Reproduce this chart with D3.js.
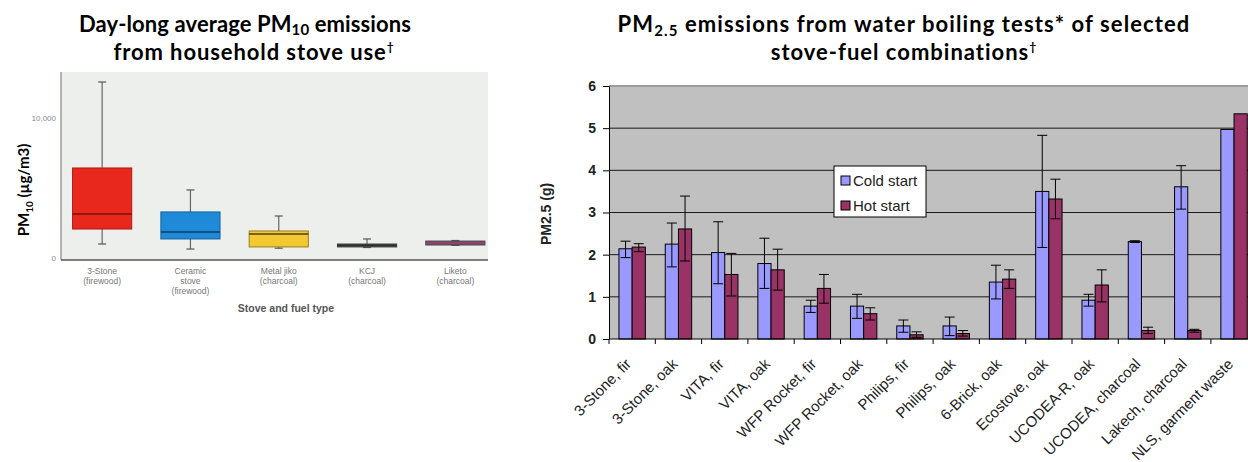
<!DOCTYPE html>
<html>
<head>
<meta charset="utf-8">
<script src="https://cdn.jsdelivr.net/npm/d3@7"></script>
<style>
  html, body { margin: 0; padding: 0; background: #ffffff; }
  svg { display: block; }
</style>
</head>
<body>
<svg id="chart" width="1248" height="462"></svg>
<script>
// ---------------- Data: left panel (box plot, PM10 µg/m3) ----------------
const stoveCategories = ["3-Stone (firewood)", "Ceramic stove (firewood)", "Metal jiko (charcoal)", "KCJ (charcoal)", "Liketo (charcoal)"];
const stoveLabelLines = [["3-Stone", "(firewood)"], ["Ceramic", "stove", "(firewood)"], ["Metal jiko", "(charcoal)"], ["KCJ", "(charcoal)"], ["Liketo", "(charcoal)"]];
const whiskerLow  = [1000, 640, 700, 750, 900];
const quartile1   = [2070, 1360, 790, 790, 930];
const medianVal   = [3140, 1860, 1710, 900, 1070];
const quartile3   = [6430, 3290, 1930, 1000, 1210];
const whiskerHigh = [12570, 4860, 3000, 1360, 1250];
const leftTicks = [0, 10000];

// ---------------- Data: right panel (grouped bars, PM2.5 g) ----------------
const tests = ["3-Stone, fir", "3-Stone, oak", "VITA, fir", "VITA, oak", "WFP Rocket, fir", "WFP Rocket, oak", "Philips, fir", "Philips, oak", "6-Brick, oak", "Ecostove, oak", "UCODEA-R, oak", "UCODEA, charcoal", "Lakech, charcoal", "NLS, garment waste"];
const seriesNames = ["Cold start", "Hot start"];
const coldStart   = [2.14, 2.25, 2.05, 1.79, 0.78, 0.78, 0.31, 0.31, 1.35, 3.50, 0.92, 2.31, 3.61, 4.97];
const coldLow     = [1.93, 1.71, 1.31, 1.20, 0.63, 0.49, 0.16, 0.08, 0.95, 2.17, 0.78, 2.29, 3.08, null];
const coldHigh    = [2.32, 2.75, 2.78, 2.39, 0.92, 1.06, 0.45, 0.52, 1.75, 4.83, 1.06, 2.33, 4.11, null];
const hotStart    = [2.18, 2.61, 1.53, 1.64, 1.20, 0.60, 0.10, 0.13, 1.42, 3.32, 1.28, 0.20, 0.20, 5.34];
const hotLow      = [2.07, 1.85, 1.02, 1.16, 0.85, 0.45, 0.04, 0.07, 1.20, 2.85, 0.88, 0.13, 0.16, null];
const hotHigh     = [2.26, 3.39, 2.03, 2.13, 1.53, 0.74, 0.17, 0.20, 1.64, 3.79, 1.64, 0.28, 0.23, null];
const rightTicks  = [0, 1, 2, 3, 4, 5, 6];

const svg = d3.select("#chart");
const titleFont = "Lato, 'Open Sans', sans-serif";
const arial = "'Liberation Sans', Arial, sans-serif";

// ================= Titles =================
function title(x, y, parts, spacing) {
  const t = svg.append("text").attr("x", x).attr("y", y).attr("text-anchor", "middle")
    .attr("font-family", titleFont).attr("font-weight", "bold").attr("font-size", 22).attr("fill", "#000")
    .attr("letter-spacing", spacing || 0);
  parts.forEach(p => {
    const ts = t.append("tspan").text(p.t);
    if (p.sub) ts.attr("font-size", 15).attr("dy", p.sub);
    if (p.after) ts.attr("dy", -p.after);
    if (p.sup) ts.attr("font-size", 12).attr("dy", -9);
  });
}
title(245, 32, [{t: "Day-long average PM"}, {t: "10", sub: 3}, {t: " emissions", after: 3}], 0.1);
title(254, 60, [{t: "from household stove use"}, {t: "†", sup: true}], 0.9);
title(904, 32, [{t: "PM"}, {t: "2.5", sub: 4}, {t: " emissions from water boiling tests* of selected", after: 4}], 1.1);
title(904, 60, [{t: "stove-fuel combinations"}, {t: "†", sup: true}], 1.0);

// ================= Left panel =================
const L = {left: 61, right: 488, top: 72, bottom: 260};
const gL = svg.append("g");
gL.append("rect").attr("x", L.left).attr("y", L.top).attr("width", L.right - L.left).attr("height", L.bottom - L.top)
  .attr("fill", "#edefec");
const xL = d3.scaleBand().domain(stoveCategories).range([58, 499.5]).paddingInner(0.33).paddingOuter(0.165);
const yL = d3.scaleLinear().domain([0, 10000]).range([258, 118]);

gL.append("line").attr("x1", L.left).attr("x2", L.left).attr("y1", L.top).attr("y2", L.bottom)
  .attr("stroke", "#9a9c9a").attr("stroke-width", 1.5);
gL.append("line").attr("x1", L.left).attr("x2", L.right).attr("y1", L.bottom).attr("y2", L.bottom)
  .attr("stroke", "#555").attr("stroke-width", 1.5);

const yAxisL = d3.axisLeft(yL).tickValues(leftTicks).tickSize(0).tickPadding(4).tickFormat(d3.format(","));
const ayL = gL.append("g").attr("transform", `translate(${L.left - 1},0)`).call(yAxisL);
ayL.select(".domain").remove();
ayL.selectAll("text").attr("font-family", arial).attr("font-size", 8).attr("fill", "#8a8a8a");

const boxFill   = ["#e8281c", "#1f8ad8", "#f2c833", "#5b605a", "#6a5a6c"];
const boxStroke = ["#b01a12", "#14639e", "#9a7e22", "#3e423e", "#4a3e4c"];
const medStroke = ["#7a0e0a", "#0e3e66", "#4e4010", "#2a2e2a", "#a03a6a"];

stoveCategories.forEach((c, i) => {
  const x0 = xL(c), bw = xL.bandwidth(), cx = x0 + bw / 2;
  const g = gL.append("g");
  g.append("line").attr("x1", cx).attr("x2", cx).attr("y1", yL(whiskerHigh[i])).attr("y2", yL(quartile3[i]))
    .attr("stroke", "#666").attr("stroke-width", 1.2);
  g.append("line").attr("x1", cx).attr("x2", cx).attr("y1", yL(quartile1[i])).attr("y2", yL(whiskerLow[i]))
    .attr("stroke", "#666").attr("stroke-width", 1.2);
  [whiskerHigh[i], whiskerLow[i]].forEach(v => {
    g.append("line").attr("x1", cx - 4).attr("x2", cx + 4).attr("y1", yL(v)).attr("y2", yL(v))
      .attr("stroke", "#555").attr("stroke-width", 1.2);
  });
  g.append("rect").attr("x", x0).attr("y", yL(quartile3[i])).attr("width", bw)
    .attr("height", Math.max(2, yL(quartile1[i]) - yL(quartile3[i])))
    .attr("fill", boxFill[i]).attr("stroke", boxStroke[i]).attr("stroke-width", 1);
  g.append("line").attr("x1", x0).attr("x2", x0 + bw).attr("y1", yL(medianVal[i])).attr("y2", yL(medianVal[i]))
    .attr("stroke", medStroke[i]).attr("stroke-width", 1.6);
  const t = gL.append("text").attr("x", cx).attr("y", 274).attr("text-anchor", "middle")
    .attr("font-family", arial).attr("font-size", 8.5).attr("fill", "#777");
  stoveLabelLines[i].forEach((ln, k) => {
    t.append("tspan").attr("x", cx).attr("dy", k === 0 ? 0 : 10).text(ln);
  });
});

gL.append("text").attr("x", 286).attr("y", 312).attr("text-anchor", "middle")
  .attr("font-family", arial).attr("font-weight", "bold").attr("font-size", 10.5).attr("fill", "#555")
  .text("Stove and fuel type");

const yl = gL.append("text").attr("transform", "translate(29,190) rotate(-90)").attr("text-anchor", "middle")
  .attr("font-family", titleFont).attr("font-weight", "bold").attr("font-size", 15).attr("fill", "#000");
yl.append("tspan").text("PM");
yl.append("tspan").attr("font-size", 10).attr("dy", 4).text("10");
yl.append("tspan").attr("dy", -4).text(" (µg/m3)");

// ================= Right panel =================
const R = {left: 609, top: 86, bottom: 339};
const xR = d3.scaleBand().domain(tests).range([R.left, R.left + 14 * 46.3]);
const xS = d3.scaleBand().domain(seriesNames).range([0.215 * xR.bandwidth(), 0.785 * xR.bandwidth()]);
const yR = d3.scaleLinear().domain([0, 6]).range([R.bottom, R.top]);
const gR = svg.append("g");

gR.append("rect").attr("x", R.left).attr("y", R.top).attr("width", xR.range()[1] - R.left).attr("height", R.bottom - R.top)
  .attr("fill", "#c0c0c0");
gR.selectAll("line.grid").data(rightTicks.filter(d => d > 0 && d < 6)).join("line")
  .attr("x1", R.left).attr("x2", xR.range()[1]).attr("y1", d => yR(d)).attr("y2", d => yR(d))
  .attr("stroke", "#1a1a1a").attr("stroke-width", 1);
gR.append("line").attr("x1", R.left).attr("x2", xR.range()[1]).attr("y1", yR(6)).attr("y2", yR(6))
  .attr("stroke", "#9c9c9c").attr("stroke-width", 2);

const series = [
  {name: "Cold start", vals: coldStart, lo: coldLow, hi: coldHigh, fill: "#9999ff"},
  {name: "Hot start",  vals: hotStart,  lo: hotLow,  hi: hotHigh,  fill: "#993366"}
];
series.forEach(s => {
  const g = gR.append("g");
  g.selectAll("rect").data(tests).join("rect")
    .attr("x", d => xR(d) + xS(s.name)).attr("width", xS.bandwidth())
    .attr("y", (d, i) => yR(s.vals[i])).attr("height", (d, i) => yR(0) - yR(s.vals[i]))
    .attr("fill", s.fill).attr("stroke", "#000").attr("stroke-width", 1);
});
series.forEach(s => {
  const g = gR.append("g");
  tests.forEach((d, i) => {
    if (s.lo[i] == null) return;
    const cx = xR(d) + xS(s.name) + xS.bandwidth() / 2;
    g.append("line").attr("x1", cx).attr("x2", cx).attr("y1", yR(s.hi[i])).attr("y2", yR(s.lo[i]))
      .attr("stroke", "#000").attr("stroke-width", 1);
    [s.hi[i], s.lo[i]].forEach(v => {
      g.append("line").attr("x1", cx - 5).attr("x2", cx + 5).attr("y1", yR(v)).attr("y2", yR(v))
        .attr("stroke", "#000").attr("stroke-width", 1);
    });
  });
});

const ayR = gR.append("g").attr("transform", `translate(${R.left},0)`)
  .call(d3.axisLeft(yR).tickValues(rightTicks).tickSize(6).tickPadding(7).tickFormat(d3.format("d")));
ayR.select(".domain").attr("stroke", "#000");
ayR.selectAll(".tick line").attr("stroke", "#000");
ayR.selectAll("text").attr("font-family", arial).attr("font-size", 14).attr("font-weight", "bold").attr("fill", "#222");

gR.append("line").attr("x1", R.left).attr("x2", xR.range()[1]).attr("y1", R.bottom).attr("y2", R.bottom)
  .attr("stroke", "#000").attr("stroke-width", 1);
const boundaries = tests.map(d => xR(d)).concat([xR.range()[1]]);
gR.selectAll("line.xtick").data(boundaries).join("line")
  .attr("x1", d => d).attr("x2", d => d).attr("y1", R.bottom).attr("y2", R.bottom + 5)
  .attr("stroke", "#000").attr("stroke-width", 1);
gR.selectAll("text.xlab").data(tests).join("text")
  .attr("transform", d => `translate(${xR(d) + xR.bandwidth() / 2},${R.bottom + 26}) rotate(-45)`)
  .attr("text-anchor", "end").attr("font-family", arial).attr("font-size", 15).attr("fill", "#222")
  .text(d => d);

gR.append("text").attr("transform", `translate(551,214) rotate(-90)`).attr("text-anchor", "middle")
  .attr("font-family", arial).attr("font-weight", "bold").attr("font-size", 14).attr("fill", "#222")
  .text("PM2.5 (g)");

const lg = gR.append("g").attr("transform", "translate(834,166)");
lg.append("rect").attr("width", 92).attr("height", 51).attr("fill", "#fff").attr("stroke", "#000").attr("stroke-width", 1);
series.forEach((s, i) => {
  lg.append("rect").attr("x", 7).attr("y", 10 + i * 25).attr("width", 9).attr("height", 9)
    .attr("fill", s.fill).attr("stroke", "#000").attr("stroke-width", 1);
  lg.append("text").attr("x", 19).attr("y", 20 + i * 25).attr("font-family", arial).attr("font-size", 15)
    .attr("fill", "#222").text(s.name);
});
</script>
</body>
</html>
